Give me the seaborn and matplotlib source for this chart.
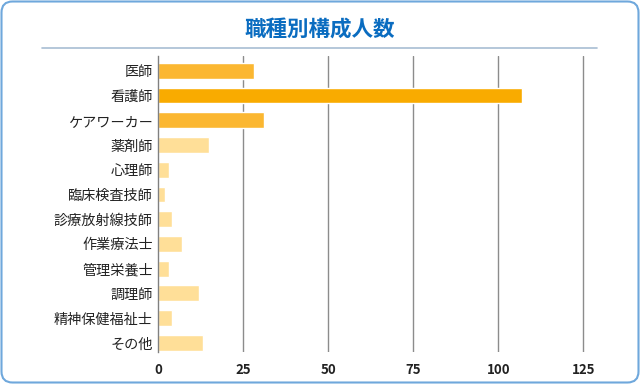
import matplotlib
matplotlib.use("Agg")
import matplotlib.pyplot as plt
import matplotlib.patches as patches
import matplotlib.transforms as mtransforms
from matplotlib.lines import Line2D
import seaborn as sns
import pandas as pd

jobs = ['医師', '看護師', 'ケアワーカー', '薬剤師', '心理師', '臨床検査技師',
        '診療放射線技師', '作業療法士', '管理栄養士', '調理師', '精神保健福祉士', 'その他']
counts = [28, 107, 31, 15, 3, 2, 4, 7, 3, 12, 4, 13]
bar_colors = ['#FBB731', '#F9AB00', '#FBB731'] + ['#FFDF98'] * 9
x_ticks = [0, 25, 50, 75, 100, 125]

sns.set_style('white')
plt.rcParams['font.family'] = ['Noto Sans CJK JP', 'DejaVu Sans']

df = pd.DataFrame({'job': jobs, 'count': counts})

fig = plt.figure(figsize=(6.4, 3.84), dpi=100)
ax = fig.add_axes([158.3 / 640, 1 - 352 / 384, (597 - 158.3) / 640, (352 - 56) / 384])

sns.barplot(data=df, x='count', y='job', hue='job', palette=bar_colors,
            legend=False, width=0.64, saturation=1, ax=ax)

ax.set_xlim(0, 129)
ax.set_ylim(11.37, -0.6)
ax.set_xticks(x_ticks)
for v in x_ticks[1:]:
    ax.axvline(v, color='#8c8c8c', lw=1, zorder=0)
ax.set_xlabel('')
ax.set_ylabel('')
for s in ['top', 'right', 'bottom']:
    ax.spines[s].set_visible(False)
ax.spines['left'].set_color('#808080')
ax.spines['left'].set_linewidth(1)
ax.tick_params(axis='both', length=0)
ax.tick_params(axis='x', pad=8, labelsize=9.5, labelcolor='#222222')
ax.tick_params(axis='y', pad=4, labelsize=10.2, labelcolor='#222222')
for t in ax.get_xticklabels():
    t.set_fontweight('bold')

fig.text(0.5, 1 - 30 / 384, '職種別構成人数', ha='center', va='center',
         fontsize=15.5, fontweight='bold', color='#0A6CC0')
fig.add_artist(Line2D([42 / 640, 597 / 640], [1 - 48 / 384, 1 - 48 / 384],
                      color='#A8BDD3', lw=1.2, transform=fig.transFigure))

border = patches.FancyBboxPatch((1.5, 1.5), 637, 381,
                                boxstyle='round,pad=0,rounding_size=11',
                                linewidth=1.5, edgecolor='#6FA8DC', facecolor='none',
                                transform=mtransforms.IdentityTransform())
fig.add_artist(border)

fig.savefig('out.png', dpi=100)
